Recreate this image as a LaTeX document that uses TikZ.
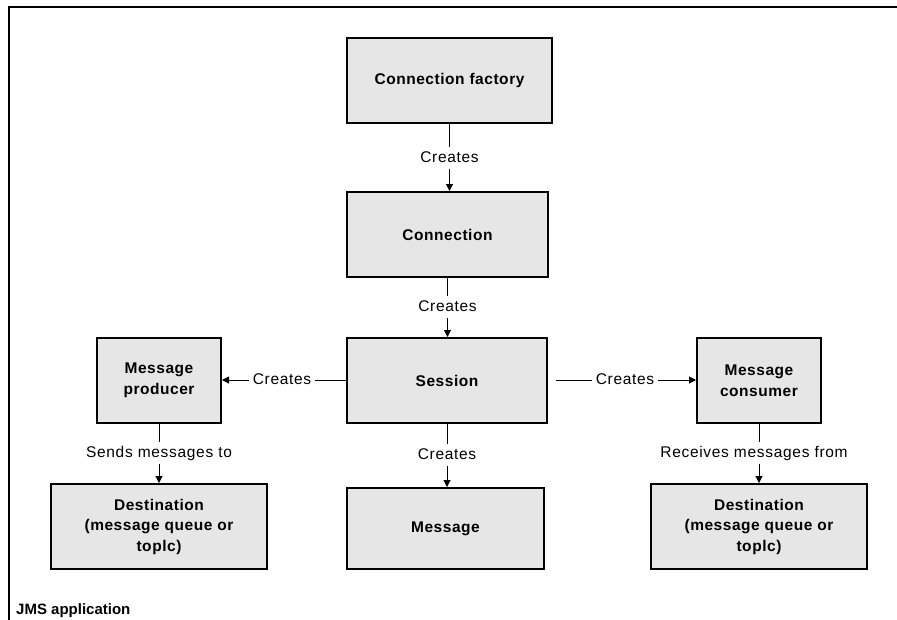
\documentclass[tikz,border=0pt]{standalone}
\usepackage{fontspec}
\setmainfont{Liberation Sans}
\newfontfamily\boxfont[LetterSpace=3.5]{Liberation Sans}
\newfontfamily\lblfont[LetterSpace=4.5]{Liberation Sans}
\usetikzlibrary{arrows.meta}
\definecolor{boxgray}{RGB}{230,230,230}
\tikzset{
  box/.style={draw=black, line width=2pt, fill=boxgray, align=center, inner sep=0pt,
    font=\boxfont\fontsize{15.5}{20.5}\selectfont\bfseries},
  lbl/.style={inner xsep=4pt, inner ysep=3pt, text height=11.5pt, text depth=3.5pt,
    font=\lblfont\fontsize{15.5}{18}\selectfont},
  wire/.style={line width=1pt, black},
  arr/.style={wire, -{Triangle[length=7pt,width=7pt]}}
}
\begin{document}
\begin{tikzpicture}[x=1pt,y=-1pt]
\clip (0,0) rectangle (897,619);
\fill[white] (0,0) rectangle (897,619);
% frame
\draw[line width=2pt] (9,640) -- (9,7) -- (910,7);
% boxes
\node[box, minimum width=205pt, minimum height=85pt] (cf) at (449.5,80.5) {Connection factory};
\node[box, minimum width=201pt, minimum height=85pt] (conn) at (447.5,234.5) {Connection};
\node[box, minimum width=200pt, minimum height=85pt] (sess) at (447,380.5) {Session};
\node[box, minimum width=197pt, minimum height=81pt] (msg) at (445.5,528.5) {Message};
\node[box, minimum width=124pt, minimum height=85pt] (prod) at (159,380.5) {Message\\producer};
\node[box, minimum width=124pt, minimum height=85pt] (cons) at (759,380.5) {Message\\consumer};
\node[box, minimum width=216pt, minimum height=85pt] (destL) at (159,526.5) {Destination\\(message queue or\\toplc)};
\node[box, minimum width=216pt, minimum height=85pt] (destR) at (759,526.5) {Destination\\(message queue or\\toplc)};
% labels
\node[lbl] (l1) at (449.5,158) {Creates};
\node[lbl] (l2) at (447.5,307) {Creates};
\node[lbl] (l3) at (447,455) {Creates};
\node[lbl] (l4) at (282,380) {Creates};
\node[lbl] (l5) at (625,380) {Creates};
\node[lbl] (l6) at (159,453) {Sends messages to};
\node[lbl] (l7) at (754,453) {Receives messages from};
% connectors
\draw[wire] (cf.south -| l1) -- (l1.north);
\draw[arr] (l1.south) -- (l1.south |- conn.north);
\draw[wire] (conn.south -| l2) -- (l2.north);
\draw[arr] (l2.south) -- (l2.south |- sess.north);
\draw[wire] (sess.south -| l3) -- (l3.north);
\draw[arr] (l3.south) -- (l3.south |- msg.north);
\draw[wire] (sess.west |- l4) -- (l4.east);
\draw[arr] (l4.west) -- (prod.east |- l4);
\draw[wire, shorten <=8pt] (sess.east |- l5) -- (l5.west);
\draw[arr] (l5.east) -- (cons.west |- l5);
\draw[wire] (prod.south) -- (prod.south |- l6.north);
\draw[arr] (prod.south |- l6.south) -- (destL.north);
\draw[wire] (cons.south) -- (cons.south |- l7.north);
\draw[arr] (cons.south |- l7.south) -- (destR.north);
% title
\node[anchor=west, inner sep=0pt, font=\fontsize{15}{18}\selectfont\bfseries] (title) at (16,611) {JMS application};
\end{tikzpicture}
\end{document}
